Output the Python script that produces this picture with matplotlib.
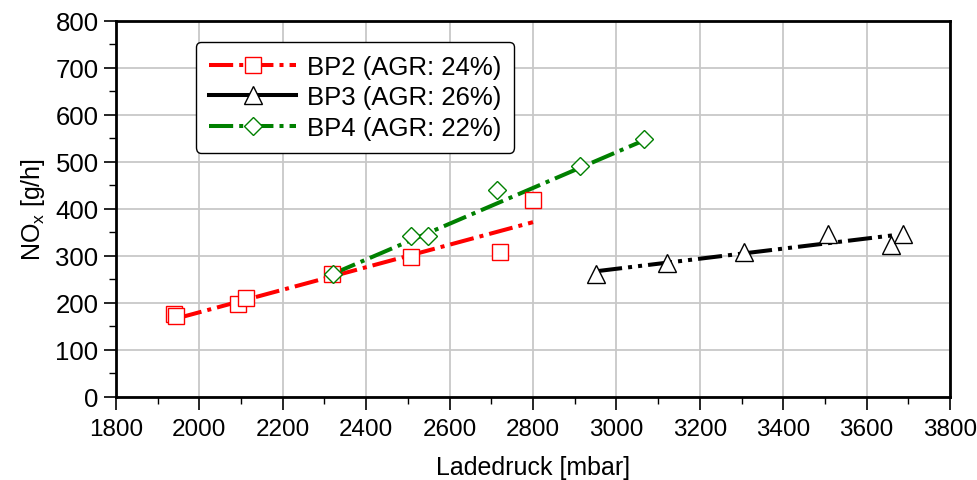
import numpy as np
import matplotlib.pyplot as plt

plt.rcParams['font.family'] = ['Liberation Sans', 'DejaVu Sans']

# measured points
bp2_x = [1940, 1945, 2093, 2112, 2318, 2507, 2721, 2800]
bp2_y = [177, 172, 198, 211, 262, 298, 309, 419]
bp3_x = [2951, 3121, 3306, 3507, 3659, 3688]
bp3_y = [262, 285, 308, 347, 323, 347]
bp4_x = [2320, 2507, 2548, 2714, 2913, 3066]
bp4_y = [262, 343, 343, 440, 491, 549]

# regression lines (start/end)
fit2_x = [1949, 2800]
fit2_y = [168, 372]
fit3_x = [2956, 3673]
fit3_y = [268, 345]
fit4_x = [2320, 3066]
fit4_y = [262, 546]

labels = ['BP2 (AGR: 24%)', 'BP3 (AGR: 26%)', 'BP4 (AGR: 22%)']
x_ticks = np.arange(1800, 3801, 200)
y_ticks = np.arange(0, 801, 100)

fig = plt.figure(figsize=(9.77, 4.81), dpi=100)
ax = fig.add_axes([0.1187, 0.1726, 0.8537, 0.7817])

lw = 2.9
ax.plot(fit2_x, fit2_y, color='red', lw=lw, dashes=(6, 1.5, 1, 1.5), zorder=3)
ax.plot(fit3_x, fit3_y, color='black', lw=lw, dashes=(6, 1.5, 1, 1.5, 1, 1.5), zorder=3)
ax.plot(fit4_x, fit4_y, color='green', lw=lw, dashes=(6, 1.5, 1, 1.5), zorder=3)

ax.plot(bp2_x, bp2_y, ls='none', marker='s', ms=12, mfc='white', mec='red', mew=1.0, zorder=4)
ax.plot(bp3_x, bp3_y, ls='none', marker='^', ms=13, mfc='white', mec='black', mew=1.0, zorder=4)
ax.plot(bp4_x, bp4_y, ls='none', marker='D', ms=9.5, mfc='white', mec='green', mew=1.0, zorder=4)

# legend handles: line + marker
h2, = ax.plot([], [], color='red', lw=lw, dashes=(6, 1.5, 1, 1.5), marker='s', ms=12, mfc='white', mec='red', mew=1.0)
h3, = ax.plot([], [], color='black', lw=lw, marker='^', ms=13, mfc='white', mec='black', mew=1.0)
h4, = ax.plot([], [], color='green', lw=lw, dashes=(6, 1.5, 1, 1.5), marker='D', ms=9.5, mfc='white', mec='green', mew=1.0)
leg = ax.legend([h2, h3, h4], labels, loc='upper left', bbox_to_anchor=(0.096, 0.944),
                borderaxespad=0, fontsize=18.5, handlelength=3.4, handletextpad=0.4,
                labelspacing=0.25, borderpad=0.5, fancybox=True, framealpha=1,
                edgecolor='black')
leg.get_frame().set_linewidth(1.0)

ax.set_xlim(1800, 3800)
ax.set_ylim(0, 800)
ax.set_xticks(x_ticks)
ax.set_yticks(y_ticks)
ax.set_xticks(np.arange(1900, 3800, 200), minor=True)
ax.set_yticks(np.arange(50, 800, 100), minor=True)
ax.tick_params(axis='both', which='major', direction='out', length=9, width=1.2, labelsize=17.5)
ax.tick_params(axis='y', which='major', labelsize=18.5)
ax.tick_params(axis='x', which='major', pad=6)
ax.tick_params(axis='both', which='minor', direction='out', length=5, width=1.0)
ax.grid(True, which='major', color='#c8c8c8', lw=1.3, zorder=0)
ax.set_axisbelow(True)
for s in ax.spines.values():
    s.set_linewidth(2.0)

ax.set_xlabel('Ladedruck [mbar]', fontsize=18, labelpad=11)
ax.set_ylabel('NO$_\\mathregular{x}$ [g/h]', fontsize=18, labelpad=6)

fig.savefig('out.png', dpi=100)
